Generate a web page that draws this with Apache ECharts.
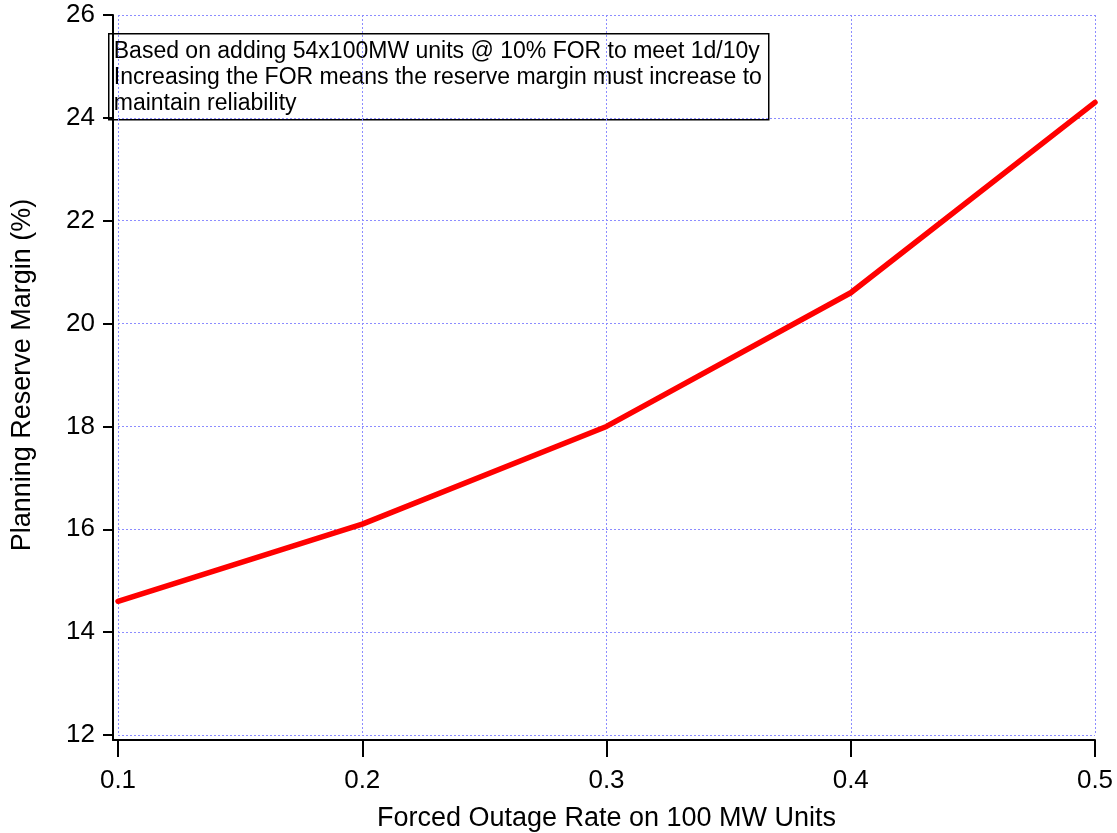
<!DOCTYPE html>
<html>
<head>
<meta charset="utf-8">
<script src="https://cdn.jsdelivr.net/npm/echarts@6/dist/echarts.min.js"></script>
<style>
html,body{margin:0;padding:0;background:#fff;}
#c{width:1117px;height:833px;}
</style>
</head>
<body>
<div id="c"></div>
<script>
const forcedOutageRate = [0.1, 0.2, 0.3, 0.4, 0.5];
const reserveMargin = [14.6, 16.1, 18.0, 20.6, 24.3];
const xTitle = 'Forced Outage Rate on 100 MW Units';
const yTitle = 'Planning Reserve Margin (%)';
const noteLines = [
  'Based on adding 54x100MW units @ 10% FOR to meet 1d/10y',
  'Increasing the FOR means the reserve margin must increase to',
  'maintain reliability'
];

const FONT = '"Liberation Sans", Arial, Helvetica, sans-serif';
const chart = echarts.init(document.getElementById('c'), null, {renderer: 'canvas'});
const gridLine = {show: true, lineStyle: {color: '#8c8cff', width: 1, type: [2, 2]}};

chart.setOption({
  backgroundColor: '#fff',
  animation: false,
  textStyle: {fontFamily: FONT, color: '#000'},
  grid: [
    {left: 118, right: 22, top: 15, bottom: 98, containLabel: false, outerBoundsMode: 'none'},
    {left: 113, right: 22, top: 15, bottom: 93, containLabel: false, outerBoundsMode: 'none'}
  ],
  xAxis: [{
    type: 'value', gridIndex: 0, min: 0.1, max: 0.5, interval: 0.1, offset: 5,
    axisLine: {show: false},
    axisTick: {show: true, length: 17, lineStyle: {color: '#000', width: 2}},
    axisLabel: {margin: 28, fontSize: 26, color: '#000', fontFamily: FONT,
      formatter: v => (Math.round(v * 10) / 10).toString()},
    splitLine: gridLine,
    name: xTitle, nameLocation: 'middle', nameGap: 65,
    nameTextStyle: {fontSize: 27, color: '#000', fontFamily: FONT}
  }, {
    type: 'value', gridIndex: 1, min: 0, max: 1,
    axisLine: {show: true, onZero: false, lineStyle: {color: '#000', width: 2}},
    axisTick: {show: false}, axisLabel: {show: false}, splitLine: {show: false}
  }],
  yAxis: [{
    type: 'value', gridIndex: 0, min: 12, max: 26, interval: 2, offset: 5,
    axisLine: {show: false},
    axisTick: {show: true, length: 10, lineStyle: {color: '#000', width: 2}},
    axisLabel: {margin: 18, fontSize: 26, color: '#000', fontFamily: FONT},
    splitLine: gridLine,
    name: yTitle, nameLocation: 'middle', nameGap: 77, nameRotate: 90,
    nameTextStyle: {fontSize: 27, color: '#000', fontFamily: FONT}
  }, {
    type: 'value', gridIndex: 1, min: 0, max: 1,
    axisLine: {show: true, onZero: false, lineStyle: {color: '#000', width: 2}},
    axisTick: {show: false}, axisLabel: {show: false}, splitLine: {show: false}
  }],
  series: [{
    type: 'line', xAxisIndex: 0, yAxisIndex: 0,
    data: forcedOutageRate.map((x, i) => [x, reserveMargin[i]]),
    showSymbol: false, symbol: 'none',
    lineStyle: {color: '#ff0000', width: 5.5, cap: 'round', join: 'round'},
    z: 5
  }],
  graphic: [{
    type: 'group', left: 108, top: 33, z: 100,
    children: [{
      type: 'rect', shape: {x: 0, y: 0, width: 660, height: 86},
      style: {fill: '#fff', stroke: '#000', lineWidth: 1.5}
    }, {
      type: 'text', x: 5, y: 5,
      style: {text: noteLines.join('\n'), font: '23px ' + FONT, fill: '#000', lineHeight: 26}
    }]
  }]
});
</script>
</body>
</html>
